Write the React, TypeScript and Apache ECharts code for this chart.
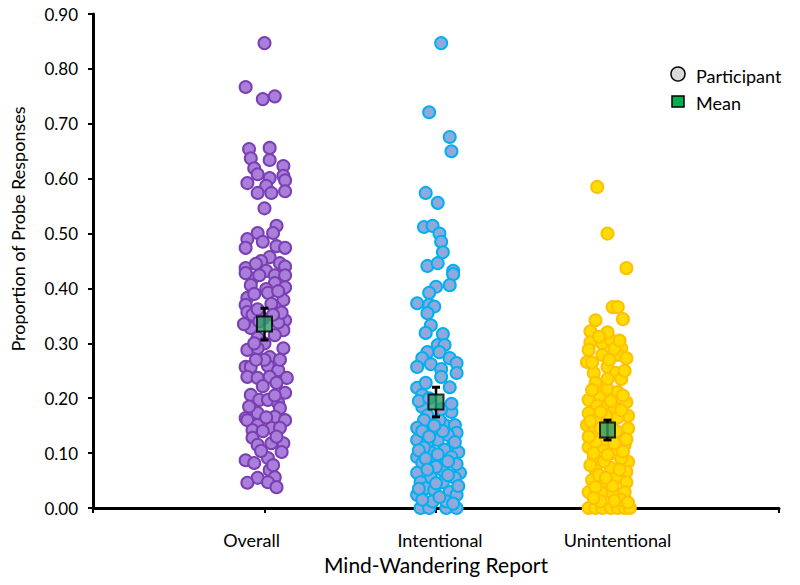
import React, { useEffect, useRef } from "react";
import * as echarts from "echarts";

const categories = ["Overall", "Intentional", "Unintentional"];
const yTicks = [0, 0.1, 0.2, 0.3, 0.4, 0.5, 0.6, 0.7, 0.8, 0.9];

// [x (jittered category position), proportion]
const overallPts: number[][] = [
  [1.00,0.847],[0.89,0.767],[0.99,0.745],[1.06,0.750],
  [0.91,0.654],[1.03,0.656],[0.92,0.637],[1.03,0.634],[0.94,0.619],[1.11,0.623],[0.96,0.608],[1.03,0.601],[1.11,0.605],[0.90,0.592],[1.01,0.587],[1.12,0.597],[0.96,0.574],[1.04,0.574],[1.12,0.577],
  [1.00,0.546],[1.07,0.514],[0.96,0.501],[1.05,0.501],[0.99,0.485],[0.90,0.490],[0.89,0.474],[1.07,0.477],[1.12,0.474],[1.03,0.457],[0.98,0.450],[1.09,0.446],[0.89,0.437],
  [0.95,0.445],[1.12,0.440],[1.01,0.432],[0.93,0.418],
  [0.89,0.428],[0.97,0.424],[1.06,0.424],[1.12,0.424],[0.92,0.406],[1.06,0.410],[1.01,0.399],[1.12,0.402],[1.02,0.392],[0.90,0.383],[1.11,0.379],[0.89,0.370],[1.06,0.366],[0.90,0.357],[0.93,0.352],[1.12,0.342],[0.92,0.328],[1.11,0.324],[1.06,0.315],[0.96,0.310],
  [0.99,0.345],[1.08,0.338],[0.96,0.362],[1.04,0.372],[1.10,0.356],[0.88,0.335],[1.00,0.300],
  [0.90,0.288],[0.96,0.291],[1.11,0.291],[1.03,0.275],[0.89,0.257],[0.92,0.257],[1.02,0.259],[1.08,0.251],[1.13,0.237],[0.90,0.239],[0.96,0.237],[1.03,0.239],[1.07,0.228],[1.12,0.210],[0.92,0.206],[0.97,0.197],[1.02,0.197],[1.08,0.191],[1.09,0.182],[0.96,0.173],[0.89,0.164],[0.90,0.160],[1.06,0.166],[1.12,0.160],[0.96,0.151],[0.93,0.142],[1.04,0.146],[1.09,0.146],[0.93,0.128],[0.96,0.115],[1.04,0.118],[1.11,0.118],[0.89,0.087],[0.94,0.082],[1.02,0.091],[1.03,0.069],[1.06,0.056],[0.96,0.055],[0.90,0.046],[1.02,0.047],[1.07,0.038],
  [1.00,0.270],[0.94,0.300],[1.09,0.270],[0.99,0.222],[0.91,0.185],[1.01,0.165],[1.10,0.102],[0.98,0.104],[1.05,0.078],
  [0.94,0.390],[1.08,0.395],[0.97,0.340],[1.05,0.352],[0.95,0.270],[1.06,0.205],[0.99,0.140],[1.07,0.130]
];

const intentionalPts: number[][] = [
  [2.03,0.847],[1.96,0.721],[2.08,0.676],[2.09,0.650],[1.94,0.574],[2.01,0.556],[1.93,0.512],[1.98,0.514],[2.02,0.500],[2.03,0.485],[2.04,0.466],[1.95,0.441],[2.01,0.446],[2.10,0.432],
  [2.10,0.426],[2.08,0.406],[2.00,0.403],[1.96,0.392],[1.89,0.373],[1.96,0.370],[1.99,0.367],[1.95,0.355],[1.97,0.333],[1.94,0.319],[2.04,0.317],[2.01,0.297],[2.05,0.297],[2.02,0.284],[1.95,0.284],[1.92,0.273],[2.08,0.273],[2.12,0.264],[1.89,0.257],[1.97,0.262],[2.03,0.253],[2.12,0.246],[2.03,0.239],[2.08,0.220],[1.89,0.219],[1.94,0.228],[1.92,0.206],[1.92,0.184],[1.95,0.169],
  [1.90,0.195],[1.96,0.200],[1.93,0.160],
  [1.89,0.146],[2.05,0.151],[2.11,0.151],[1.89,0.124],[1.97,0.138],[2.12,0.137],[2.01,0.124],[2.07,0.133],[2.10,0.115],[1.89,0.093],[1.97,0.102],[2.05,0.106],[2.13,0.102],[1.92,0.082],[1.99,0.088],[2.09,0.093],[2.04,0.069],[2.14,0.064],[1.89,0.064],[1.97,0.056],[2.11,0.055],[1.91,0.047],[2.04,0.047],[1.94,0.036],[1.99,0.033],[2.08,0.029],[1.89,0.024],[2.12,0.024],[1.91,0.000],[1.96,0.000],[2.06,0.000],[2.12,0.000],
  [1.92,0.140],[2.02,0.160],[2.09,0.175],[1.95,0.120],[2.00,0.075],[2.12,0.080],[1.93,0.110],[2.06,0.012],[1.98,0.012],[1.92,0.015],[2.03,0.180],[2.09,0.190],
  [1.90,0.105],[1.94,0.090],[2.01,0.098],[2.07,0.085],[2.11,0.120],[1.96,0.130],[2.04,0.140],[1.90,0.035],[2.00,0.045],[2.07,0.060],[2.13,0.040],[1.95,0.070],[2.02,0.020],[2.10,0.008],[1.99,0.150]
];

const unintentionalPts: number[][] = [
  [2.94,0.585],[3.00,0.500],[3.11,0.437],[3.03,0.366],[3.06,0.366],[3.09,0.344],[2.93,0.342],[2.90,0.322],[2.90,0.302],[2.97,0.300],[3.02,0.306],[3.08,0.291],[2.89,0.288],[2.97,0.279],[3.06,0.279],[3.11,0.273],[2.88,0.266],[3.00,0.257],[2.92,0.246],[3.05,0.246],[2.97,0.220],[3.00,0.217],[3.06,0.211],[2.95,0.202],[2.89,0.197],[3.11,0.193],[2.94,0.186],[3.00,0.186],[3.04,0.184],[3.12,0.168],[2.89,0.173],[2.88,0.151],[2.91,0.137],[3.10,0.138],[2.89,0.111],[2.97,0.111],[3.10,0.115],[2.92,0.093],[3.03,0.100],[3.12,0.084],[2.93,0.069],[3.02,0.073],[3.11,0.066],[2.91,0.051],[2.97,0.047],[3.05,0.055],[3.11,0.047],[2.89,0.029],[2.97,0.027],[3.03,0.027],[3.10,0.029],[2.89,0.000],[2.93,0.000],[2.97,0.000],[3.02,0.000],[3.06,0.000],[3.10,0.000],[3.13,0.000],
  [2.94,0.160],[3.02,0.150],[3.07,0.130],[2.99,0.125],[2.93,0.120],[3.06,0.105],[2.98,0.085],[3.08,0.090],[2.90,0.078],[3.03,0.040],[2.93,0.038],[3.08,0.015],[2.96,0.012],[3.00,0.235],[2.93,0.228],[3.08,0.235],[3.06,0.165],[2.99,0.168],[3.12,0.145],[2.91,0.265],[3.04,0.290],[3.01,0.270],
  [2.91,0.215],[3.02,0.195],[3.09,0.205],[2.96,0.175],[3.08,0.178],[2.90,0.158],[3.05,0.140],[2.96,0.145],[2.89,0.130],[3.11,0.125],[3.04,0.118],[2.92,0.100],[3.00,0.097],[3.09,0.103],[2.95,0.060],[3.07,0.070],[2.99,0.055],[2.92,0.018],[3.04,0.013],[3.12,0.010],[3.00,0.320],[3.07,0.305],[2.95,0.312],[3.10,0.250]
];

const meanX = [1, 2, 3];
const meanValues = [0.335, 0.193, 0.142];
const meanErrors = [0.029, 0.027, 0.018];

const FONT = "Lato, 'Open Sans', sans-serif";

export default function App() {
  const ref = useRef<HTMLDivElement>(null);

  useEffect(() => {
    document.body.style.margin = "0";
    if (!ref.current) return;
    const chart = echarts.init(ref.current, null, { renderer: "svg" });

    const pointStyle = (fill: string, stroke: string) => ({
      color: fill,
      borderColor: stroke,
      borderWidth: 2,
      opacity: 1,
    });

    const option: any = {
      animation: false,
      backgroundColor: "#ffffff",
      grid: { left: 93, right: 21, top: 14, bottom: 77, containLabel: false },
      xAxis: {
        type: "value",
        min: 0,
        max: 4,
        interval: 1,
        name: "Mind-Wandering Report",
        nameLocation: "middle",
        nameGap: 46,
        nameTextStyle: { fontFamily: FONT, fontSize: 21, color: "#000" },
        axisLine: { show: true, onZero: false, lineStyle: { color: "#000", width: 3 } },
        axisTick: { show: true, inside: false, length: 5, lineStyle: { color: "#000", width: 2 } },
        splitLine: { show: false },
        axisLabel: {
          margin: 23,
          fontFamily: FONT,
          fontSize: 18,
          color: "#000",
          formatter: (v: number) => {
            const i = Math.round(v) - 1;
            if (i === 0) return "{a|" + categories[0] + "}";
            if (i === 1) return "{b|" + categories[1] + "}";
            if (i === 2) return "{c|" + categories[2] + "}";
            return "";
          },
          rich: {
            a: { fontFamily: FONT, fontSize: 18, color: "#000", padding: [0, 26, 0, 0] },
            b: { fontFamily: FONT, fontSize: 18, color: "#000", padding: [0, 0, 0, 8] },
            c: { fontFamily: FONT, fontSize: 18, color: "#000", padding: [0, 0, 0, 20] },
          },
        },
      },
      yAxis: {
        type: "value",
        min: 0,
        max: 0.9,
        interval: 0.1,
        axisLine: { show: true, lineStyle: { color: "#000", width: 3 } },
        axisTick: { show: true, inside: false, length: 5, lineStyle: { color: "#000", width: 2 } },
        splitLine: { show: false },
        axisLabel: {
          margin: 15,
          fontFamily: FONT,
          fontSize: 17,
          color: "#000",
          formatter: (v: number) => {
            const t = yTicks.find((k) => Math.abs(k - v) < 1e-6);
            return (t !== undefined ? t : v).toFixed(2);
          },
        },
      },
      series: [
        {
          name: categories[0],
          type: "scatter",
          symbol: "circle",
          symbolSize: 12,
          data: overallPts,
          itemStyle: pointStyle("#a97fd9", "#7a3fb3"),
          z: 2,
        },
        {
          name: categories[1],
          type: "scatter",
          symbol: "circle",
          symbolSize: 12,
          data: intentionalPts,
          itemStyle: pointStyle("#8fa9dc", "#00b0f0"),
          z: 2,
        },
        {
          name: categories[2],
          type: "scatter",
          symbol: "circle",
          symbolSize: 12,
          data: unintentionalPts,
          itemStyle: pointStyle("#ffdc00", "#ffc000"),
          z: 2,
        },
        {
          name: "Error",
          type: "custom",
          z: 3,
          data: meanX.map((x, i) => [x, meanValues[i], meanErrors[i]]),
          encode: { x: 0, y: 1 },
          renderItem: (params: any, api: any) => {
            const x = api.value(0);
            const m = api.value(1);
            const e = api.value(2);
            const top = api.coord([x, m + e]);
            const bot = api.coord([x, m - e]);
            const w = 4;
            return {
              type: "group",
              children: [
                { type: "line", shape: { x1: top[0], y1: top[1], x2: bot[0], y2: bot[1] }, style: { stroke: "#000", lineWidth: 2.5 } },
                { type: "line", shape: { x1: top[0] - w, y1: top[1], x2: top[0] + w, y2: top[1] }, style: { stroke: "#000", lineWidth: 3 } },
                { type: "line", shape: { x1: bot[0] - w, y1: bot[1], x2: bot[0] + w, y2: bot[1] }, style: { stroke: "#000", lineWidth: 3 } },
              ],
            };
          },
        },
        {
          name: "Mean",
          type: "scatter",
          symbol: "rect",
          symbolSize: 15,
          z: 4,
          data: meanX.map((x, i) => [x, meanValues[i]]),
          itemStyle: { color: "#2f9c6a", borderColor: "#000", borderWidth: 2 },
        },
      ],
      graphic: [
        {
          type: "text",
          x: 18,
          y: 229,
          rotation: Math.PI / 2,
          style: {
            text: "Proportion of Probe Responses",
            fontFamily: FONT,
            fontSize: 18,
            fill: "#000",
            align: "center",
            verticalAlign: "middle",
          },
        },
        {
          type: "circle",
          shape: { cx: 678, cy: 74, r: 7 },
          style: { fill: "#d9d9d9", stroke: "#000", lineWidth: 1.5 },
        },
        {
          type: "text",
          x: 696,
          y: 76,
          style: { text: "Participant", fontFamily: FONT, fontSize: 18, fill: "#000", verticalAlign: "middle" },
        },
        {
          type: "rect",
          shape: { x: 672, y: 96, width: 12, height: 11 },
          style: { fill: "#00b050", stroke: "#000", lineWidth: 1.5 },
        },
        {
          type: "text",
          x: 696,
          y: 103,
          style: { text: "Mean", fontFamily: FONT, fontSize: 18, fill: "#000", verticalAlign: "middle" },
        },
      ],
    };

    chart.setOption(option);
    return () => chart.dispose();
  }, []);

  return <div ref={ref} style={{ width: 800, height: 585 }} />;
}
